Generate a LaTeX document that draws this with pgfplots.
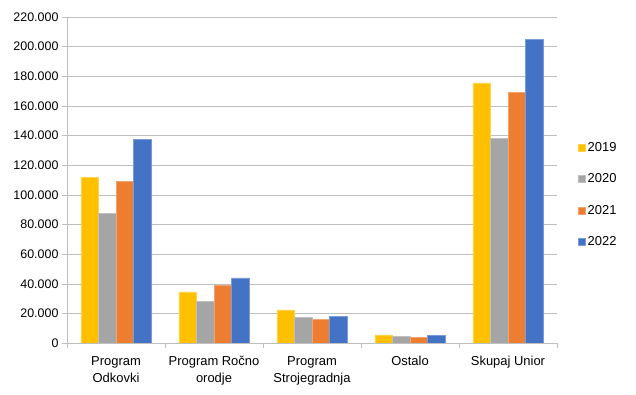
\documentclass[border=0pt]{standalone}
\usepackage{pgfplots}
\pgfplotsset{compat=1.18}
\usepackage{fontspec}
\setmainfont{Liberation Sans}
\definecolor{c19}{HTML}{FFC000}
\definecolor{c20}{HTML}{A5A5A5}
\definecolor{c21}{HTML}{ED7D31}
\definecolor{c22}{HTML}{4472C4}
\definecolor{gridc}{HTML}{BFBFBF}
\begin{document}
\begin{tikzpicture}
\useasboundingbox (0,0) rectangle (636bp,395bp);
\begin{axis}[
  at={(67bp,52bp)}, anchor=south west,
  scale only axis, width=490bp, height=326bp,
  ybar=0pt, bar width=17.6bp,
  xmin=-0.5, xmax=4.5, ymin=0, ymax=220000,
  xtick={0,1,2,3,4},
  xticklabels={{Program\\Odkovki},{Program Ročno\\orodje},{Program\\Strojegradnja},{Ostalo},{Skupaj Unior}},
  xticklabel style={align=center, font=\fontsize{13}{17}\selectfont, yshift=-5bp},
  major x tick style={draw=none},
  minor xtick={-0.5,0.5,1.5,2.5,3.5,4.5},
  minor x tick style={draw=gridc, thin},
  minor tick length=5bp,
  ytick={0,20000,...,220000},
  yticklabel style={font=\fontsize{12.5}{14}\selectfont},
  /pgf/number format/.cd, fixed, 1000 sep={.}, assume math mode=true,
  /pgfplots/.cd,
  scaled y ticks=false,
  axis x line*=bottom, axis y line*=left,
  axis line style={gridc, thin},
  tick align=outside,
  major tick length=5bp,
  y tick style={draw=gridc, thin},
  ymajorgrids, major grid style={gridc, thin},
  legend style={draw=none, at={(1.043,0.455)}, anchor=west, font=\fontsize{13}{15}\selectfont, row sep=17bp, inner sep=0pt},
  legend cell align=left,
  legend image code/.code={\fill[#1] (0bp,-3.5bp) rectangle (7bp,3.5bp);},
]
\addplot[fill=c19, draw=c19!70!white, line width=0.4pt] coordinates {(0,111800) (1,34500) (2,22300) (3,5400) (4,175500)};
\addplot[fill=c20, draw=c20!70!white, line width=0.4pt] coordinates {(0,87400) (1,28000) (2,17100) (3,4300) (4,138100)};
\addplot[fill=c21, draw=c21!70!white, line width=0.4pt] coordinates {(0,109000) (1,38800) (2,16000) (3,4000) (4,169200)};
\addplot[fill=c22, draw=c22!70!white, line width=0.4pt] coordinates {(0,137200) (1,43900) (2,17800) (3,5000) (4,204700)};
\legend{2019,2020,2021,2022}
\end{axis}
\end{tikzpicture}
\end{document}
